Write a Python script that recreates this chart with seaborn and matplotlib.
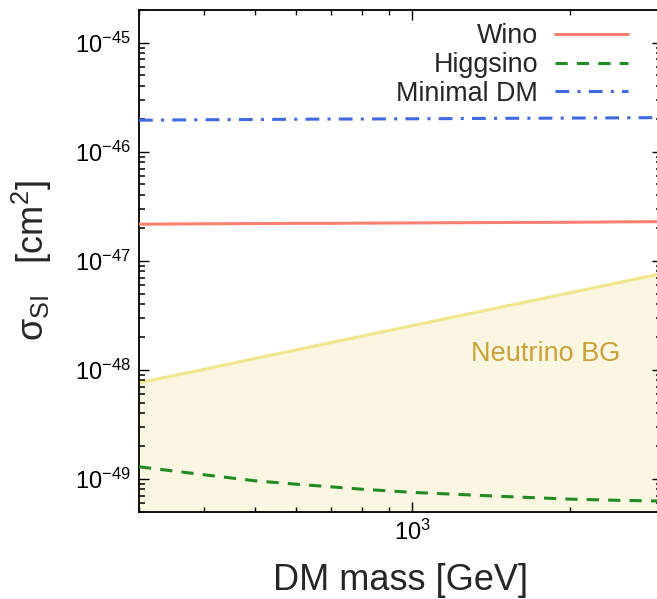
import numpy as np
import matplotlib
matplotlib.use('Agg')
import matplotlib.pyplot as plt
import seaborn as sns
from matplotlib.ticker import LogLocator, NullFormatter, FuncFormatter

# DM mass grid [GeV]
mass = [300, 400, 500, 600, 700, 800, 1000, 1500, 2000, 2500, 3000]

# spin-independent cross sections [cm^2]
wino = [2.16e-47, 2.18e-47, 2.19e-47, 2.20e-47, 2.20e-47, 2.21e-47, 2.22e-47, 2.24e-47, 2.25e-47, 2.27e-47, 2.28e-47]
higgsino = [1.29e-49, 1.09e-49, 9.6e-50, 8.93e-50, 8.45e-50, 8.04e-50, 7.52e-50, 6.89e-50, 6.52e-50, 6.35e-50, 6.26e-50]
minimal_dm = [1.94e-46, 1.96e-46, 1.97e-46, 1.98e-46, 1.99e-46, 1.99e-46, 2.00e-46, 2.02e-46, 2.03e-46, 2.04e-46, 2.05e-46]
neutrino_bg = [7.6e-49, 1.01e-48, 1.27e-48, 1.52e-48, 1.78e-48, 2.03e-48, 2.54e-48, 3.81e-48, 5.08e-48, 6.35e-48, 7.62e-48]

sns.set_style('ticks')
plt.rcParams.update({
    'font.family': ['Liberation Sans', 'DejaVu Sans'],
    'mathtext.fontset': 'custom',
    'mathtext.rm': 'Liberation Sans',
    'mathtext.it': 'Liberation Sans:italic',
    'axes.axisbelow': False,
    'xtick.direction': 'in', 'ytick.direction': 'in',
    'xtick.top': True, 'ytick.right': True,
    'xtick.major.size': 7.2, 'ytick.major.size': 7.2,
    'xtick.minor.size': 3.6, 'ytick.minor.size': 3.6,
    'xtick.major.width': 1.0, 'ytick.major.width': 1.0,
    'xtick.minor.width': 1.0, 'ytick.minor.width': 1.0,
    'xtick.color': 'black', 'ytick.color': 'black',
})

fig = plt.figure(figsize=(6.57, 5.99), dpi=100)
ax = fig.add_axes([139 / 657, 87.3 / 599, 523 / 657, 502 / 599])

# neutrino floor: shaded region + boundary line
ax.fill_between(mass, 1e-51, neutrino_bg, color='#faf6e1', lw=0, zorder=1)
sns.lineplot(x=mass, y=neutrino_bg, ax=ax, color='#f0e68c', lw=2.2, zorder=2)

sns.lineplot(x=mass, y=wino, ax=ax, color='#fa8072', lw=2.2, label='Wino', zorder=3)
sns.lineplot(x=mass, y=higgsino, ax=ax, color='#228b22', lw=2.2,
             linestyle=(0, (4, 3)), label='Higgsino', zorder=3)
sns.lineplot(x=mass, y=minimal_dm, ax=ax, color='#4169e1', lw=2.2,
             linestyle=(0, (4.5, 2.7, 1, 2.7)), label='Minimal DM', zorder=3)

ax.set_xscale('log')
ax.set_yscale('log')

def pow10(v, pos):
    return r'$\mathregular{10^{%d}}$' % int(round(np.log10(v)))

ax.xaxis.set_major_locator(LogLocator(base=10))
ax.xaxis.set_minor_locator(LogLocator(base=10, subs=np.arange(2, 10), numticks=100))
ax.xaxis.set_major_formatter(FuncFormatter(pow10))
ax.xaxis.set_minor_formatter(NullFormatter())

ax.yaxis.set_major_locator(LogLocator(base=10, numticks=20))
ax.yaxis.set_major_formatter(FuncFormatter(pow10))
y_minor = [s * 10.0 ** e for e in range(-50, -44) for s in range(2, 10)]
ax.set_yticks(y_minor, minor=True)
ax.yaxis.set_minor_formatter(NullFormatter())

# limits after the tick setup so set_yticks cannot widen them
ax.set_xlim(300, 3000)
ax.set_ylim(5e-50, 2e-45)

ax.tick_params(which='major', labelsize=17, pad=6)
ax.tick_params(axis='y', which='minor', direction='in', length=4, width=1.1,
               left=True, right=True, color='black')
ax.set_axisbelow(False)
for s in ax.spines.values():
    s.set_linewidth(1.3)
    s.set_color('black')

ax.set_xlabel('DM mass [GeV]', fontsize=26, labelpad=13)
ax.set_ylabel(r'σ$_{\mathrm{SI}}$   [cm$^2$]', fontsize=26)
ax.yaxis.set_label_coords(-0.162, 0.5)

ax.text(0.778, 0.314, 'Neutrino BG', transform=ax.transAxes, ha='center', va='center',
        fontsize=19.5, color='#c9a136')

ax.legend(loc='upper right', bbox_to_anchor=(0.935, 0.973), frameon=False, fontsize=19.4,
          markerfirst=False, handlelength=2.7, handletextpad=0.63, labelspacing=0.1,
          borderpad=0, borderaxespad=0)

fig.savefig('out.png', dpi=100)
